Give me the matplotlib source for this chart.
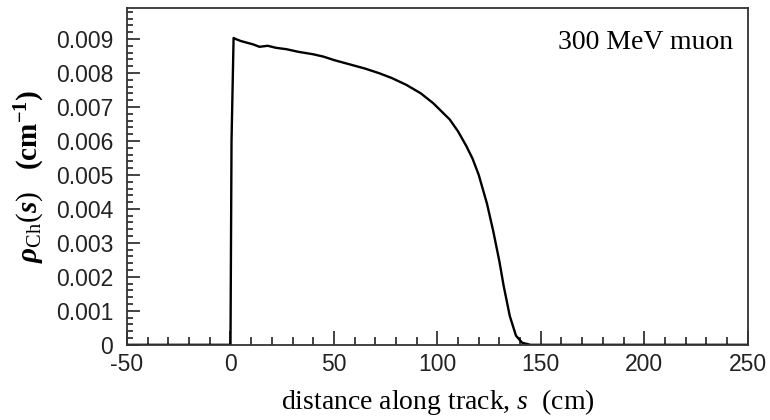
import matplotlib
matplotlib.use('Agg')
import matplotlib.pyplot as plt
from matplotlib.ticker import MultipleLocator, FuncFormatter

# fonts: arial-like ticks, times-like labels
plt.rcParams['font.family'] = 'Liberation Sans'
plt.rcParams['axes.unicode_minus'] = False
plt.rcParams['mathtext.fontset'] = 'custom'
plt.rcParams['mathtext.rm'] = 'Liberation Serif'
plt.rcParams['mathtext.it'] = 'Liberation Serif:italic'
plt.rcParams['mathtext.bf'] = 'Liberation Serif:bold'
plt.rcParams['mathtext.bfit'] = 'Liberation Serif:bold:italic'

# Cherenkov photon density along the muon track
s_cm = [-50, 0, 0.5, 1.5, 2.5, 5, 8, 11, 14, 18, 22, 27, 33, 40, 45, 50, 59,
        65, 72, 78, 85, 92, 98, 106, 110, 114, 117, 120, 124, 127, 130, 132,
        135, 138, 141, 145, 250]
rho = [0, 0, 0.0060, 0.00903, 0.00900, 0.00894, 0.00889, 0.00884, 0.00877,
       0.00880, 0.00874, 0.00870, 0.00862, 0.00855, 0.00848, 0.00838, 0.00823,
       0.00813, 0.00799, 0.00785, 0.00765, 0.00740, 0.00711, 0.00663, 0.00628,
       0.00585, 0.00548, 0.00500, 0.00415, 0.00335, 0.00245, 0.00175, 0.00085,
       0.00027, 0.00006, 0, 0]

x_ticks = [-50, 0, 50, 100, 150, 200, 250]
label_text = '300 MeV muon'

fig = plt.figure(figsize=(7.7, 4.2), dpi=100)
ax = fig.add_axes([0.165, 0.179, 0.806, 0.801])

ax.plot(s_cm, rho, color='black', lw=1.7)

ax.set_xlim(-50, 250)
ax.set_ylim(0, 0.0099)
ax.set_xticks(x_ticks)
ax.xaxis.set_minor_locator(MultipleLocator(10))
ax.yaxis.set_major_locator(MultipleLocator(0.001))
ax.yaxis.set_minor_locator(MultipleLocator(0.0002))
ax.yaxis.set_major_formatter(FuncFormatter(lambda v, p: '0' if abs(v) < 1e-9 else '%.3f' % v))

ax.tick_params(which='both', direction='in', top=False, right=False,
               colors='#222222', labelsize=16.5, width=1.2)
ax.tick_params(axis='x', which='major', length=10, pad=6)
ax.tick_params(axis='x', which='minor', length=6)
ax.tick_params(axis='y', which='major', length=9, pad=10)
ax.tick_params(axis='y', which='minor', length=4.5)
for sp in ax.spines.values():
    sp.set_linewidth(1.3)
    sp.set_color('#333333')

ax.set_xlabel(r'distance along track, $\mathit{s}$  (cm)', family='Liberation Serif',
              fontsize=20, labelpad=8)
ax.set_ylabel(r'$\mathbfit{\rho}_{\mathrm{Ch}}(\mathbfit{s})$   (cm$^{\mathbf{-1}}$)',
              family='Liberation Serif', fontweight='bold', fontsize=21, labelpad=6)
ax.text(0.976, 0.90, label_text, transform=ax.transAxes, ha='right', va='center',
        family='Liberation Serif', fontsize=20)

fig.savefig('out.png', dpi=100)
